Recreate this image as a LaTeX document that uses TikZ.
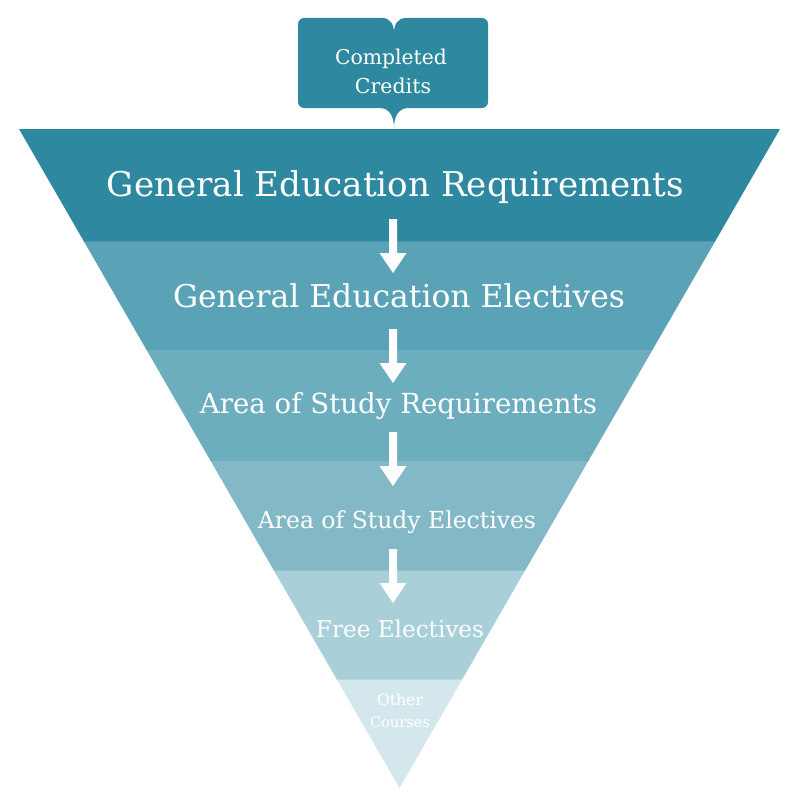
\documentclass[tikz,border=0pt]{standalone}
\usepackage{fontspec}
\setmainfont{DejaVu Serif}
\definecolor{bandA}{HTML}{2E89A0}
\definecolor{bandB}{HTML}{5AA2B5}
\definecolor{bandC}{HTML}{6CADBE}
\definecolor{bandD}{HTML}{83B8C6}
\definecolor{bandE}{HTML}{A9CFD9}
\definecolor{bandF}{HTML}{D4E7EC}
\definecolor{sepB}{HTML}{4E98AC}
\definecolor{sepC}{HTML}{5A9FB2}
\definecolor{sepD}{HTML}{6AABBC}
\definecolor{sepE}{HTML}{95C2CE}
\definecolor{sepF}{HTML}{BCD9E1}
\tikzset{
  lbl/.style={text=white, inner sep=0pt, outer sep=0pt, anchor=base},
  sepline/.style={line width=0.9pt},
  downarrow/.pic={\fill[white] (-4,0) -- (4,0) -- (4,34) -- (13.5,34) -- (0,54) -- (-13.5,34) -- (-4,34) -- cycle;}
}
\newcommand{\fitw}[2]{\resizebox{#1pt}{!}{#2}}
\begin{document}
\begin{tikzpicture}[x=1pt,y=-1pt]
\useasboundingbox (0,0) rectangle (800,800);
% funnel
\coordinate (tl) at (19,129);
\coordinate (tr) at (780,129);
\coordinate (ap) at (399.5,788);
\begin{scope}
\clip (tl) -- (tr) -- (ap) -- cycle;
\fill[bandA] (0,129) rectangle (800,241);
\fill[bandB] (0,241) rectangle (800,349);
\fill[bandC] (0,349) rectangle (800,460);
\fill[bandD] (0,460) rectangle (800,570);
\fill[bandE] (0,570) rectangle (800,679);
\fill[bandF] (0,679) rectangle (800,790);
\draw[sepline, sepB] (0,241) -- (800,241);
\draw[sepline, sepC] (0,349) -- (800,349);
\draw[sepline, sepD] (0,460) -- (800,460);
\draw[sepline, sepE] (0,570) -- (800,570);
\draw[sepline, sepF] (0,679) -- (800,679);
\end{scope}
% book
\fill[bandA] (304,18) -- (382,18) .. controls (390,18) and (394,24) .. (394,33)
  .. controls (394,24) and (398,18) .. (406,18) -- (482,18)
  arc[start angle=-90, end angle=0, radius=6] -- (488,102)
  arc[start angle=0, end angle=90, radius=6] -- (407,108)
  .. controls (398,109) and (394,117) .. (394,128)
  .. controls (394,117) and (390,109) .. (381,108) -- (304,108)
  arc[start angle=90, end angle=180, radius=6] -- (298,24)
  arc[start angle=180, end angle=270, radius=6] -- cycle;
\node[lbl] (cc1) at (391,64) {\fitw{112}{Completed}};
\node[lbl] (cc2) at (393,93) {\fitw{76}{Credits}};
% labels
\node[lbl] (t1) at (395.5,196) {\fitw{577}{General Education Requirements}};
\node[lbl] (t2) at (399,307) {\fitw{452}{General Education Electives}};
\node[lbl] (t3) at (398.5,413) {\fitw{397}{Area of Study Requirements}};
\node[lbl] (t4) at (397,528) {\fitw{278}{Area of Study Electives}};
\node[lbl] (t5) at (400,637) {\fitw{168}{Free Electives}};
\node[lbl] (t6a) at (400,705) {\fitw{46}{Other}};
\node[lbl] (t6b) at (400,727) {\fitw{60}{Courses}};
% arrows
\coordinate (a1) at (393,219);
\coordinate (a2) at (393,329);
\coordinate (a3) at (393,432);
\coordinate (a4) at (393,549);
\pic at (a1) {downarrow};
\pic at (a2) {downarrow};
\pic at (a3) {downarrow};
\pic at (a4) {downarrow};
\end{tikzpicture}
\end{document}
